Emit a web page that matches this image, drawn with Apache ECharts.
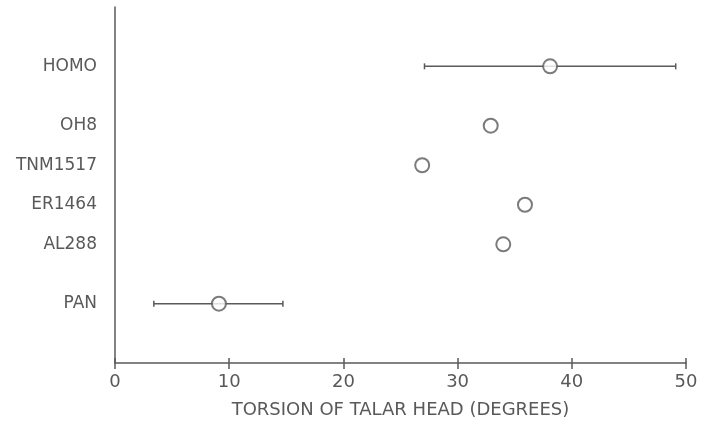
<!DOCTYPE html>
<html>
<head>
<meta charset="utf-8">
<script src="https://cdn.jsdelivr.net/npm/echarts@6/dist/echarts.min.js"></script>
<style>html,body{margin:0;padding:0;background:#fff}#c{width:702px;height:429px}</style>
</head>
<body>
<div id="c"></div>
<script>
var categories = ['HOMO', 'OH8', 'TNM1517', 'ER1464', 'AL288', 'PAN'];
var rowPos = [7.5, 6, 5, 4, 3, 1.5];
var means = [38.1, 32.9, 26.9, 35.9, 34.0, 9.1];
var lows = [27.1, null, null, null, null, 3.4];
var highs = [49.1, null, null, null, null, 14.7];
var xTicks = [0, 10, 20, 30, 40, 50];

var ink = '#5a5a5a';
var textCol = '#595959';
var font = 'DejaVu Sans';

var errData = [];
for (var i = 0; i < categories.length; i++) {
  if (lows[i] != null) errData.push([lows[i], highs[i], rowPos[i]]);
}
var ptData = means.map(function (m, i) { return [m, rowPos[i]]; });

var chart = echarts.init(document.getElementById('c'));
chart.setOption({
  animation: false,
  backgroundColor: '#fff',
  grid: { left: 115, right: 16, top: 7, bottom: 66 },
  xAxis: [{
    type: 'value', min: 0, max: 50, interval: 10, position: 'bottom',
    axisLine: { show: true, lineStyle: { color: ink, width: 1.5 } },
    axisTick: { show: true, inside: false, length: 6, lineStyle: { color: ink, width: 1.5 } },
    axisLabel: { color: textCol, fontFamily: font, fontSize: 18, margin: 10,
      formatter: function (v) { return xTicks.indexOf(v) >= 0 ? String(v) : ''; } },
    splitLine: { show: false },
    name: 'TORSION OF TALAR HEAD (DEGREES)', nameLocation: 'middle', nameGap: 38,
    nameTextStyle: { color: textCol, fontFamily: font, fontSize: 18 }
  }, {
    type: 'value', min: 0, max: 50, interval: 10, position: 'top', offset: -356,
    axisLine: { show: true, onZero: false, lineStyle: { color: ink, width: 1.5, opacity: 0 } },
    axisTick: { show: true, inside: false, length: 5, lineStyle: { color: ink, width: 1.5 } },
    axisLabel: { show: false }, splitLine: { show: false }
  }],
  yAxis: {
    type: 'value', min: 0, max: 9,
    axisLine: { show: true, lineStyle: { color: ink, width: 1.5 } },
    axisTick: { show: false },
    splitLine: { show: false },
    axisLabel: {
      customValues: rowPos, color: textCol, fontFamily: font, fontSize: 17, margin: 18,
      formatter: function (v) { var k = rowPos.indexOf(v); return k >= 0 ? categories[k] : ''; }
    }
  },
  series: [{
    type: 'custom',
    xAxisIndex: 0,
    data: errData,
    renderItem: function (params, api) {
      var y = api.value(2);
      var a = api.coord([api.value(0), y]);
      var b = api.coord([api.value(1), y]);
      var st = { stroke: ink, lineWidth: 1.5 };
      return { type: 'group', children: [
        { type: 'line', shape: { x1: a[0], y1: a[1], x2: b[0], y2: b[1] }, style: st },
        { type: 'line', shape: { x1: a[0], y1: a[1] - 3, x2: a[0], y2: a[1] + 3 }, style: st },
        { type: 'line', shape: { x1: b[0], y1: b[1] - 3, x2: b[0], y2: b[1] + 3 }, style: st }
      ] };
    },
    z: 2
  }, {
    type: 'scatter',
    xAxisIndex: 1,
    data: ptData,
    symbol: 'circle', symbolSize: 14,
    itemStyle: { color: '#fff', borderColor: ink, borderWidth: 2 },
    z: 3
  }]
});
</script>
</body>
</html>
